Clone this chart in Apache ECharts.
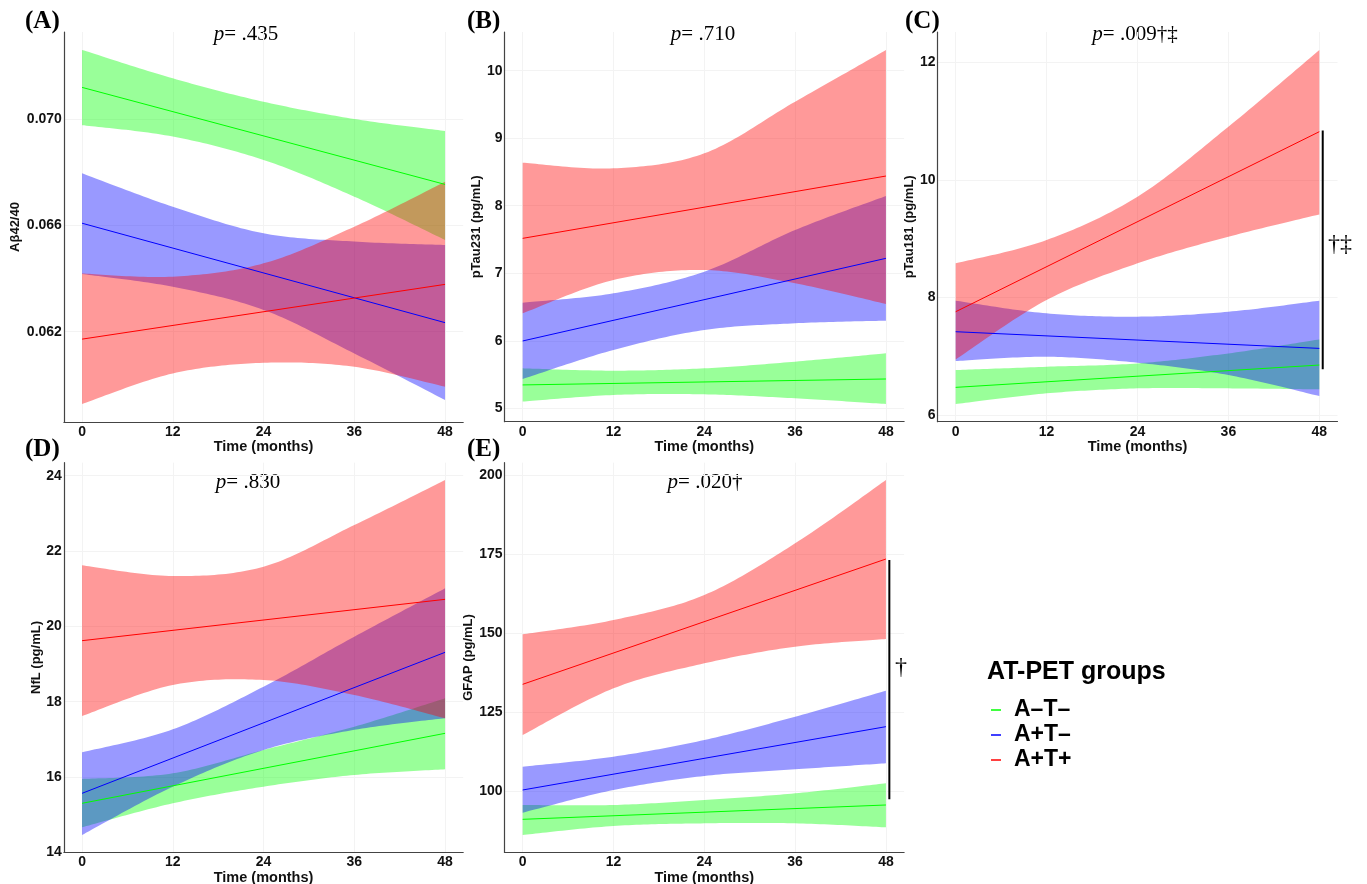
<!DOCTYPE html>
<html><head><meta charset="utf-8">
<script src="https://cdn.jsdelivr.net/npm/echarts@6/dist/echarts.min.js"></script>
<style>html,body{margin:0;padding:0;background:#fff}#c{width:1367px;height:884px}</style>
</head><body><div id="c"></div>
<script>
// ---------- data ----------
const months = [0, 12, 24, 36, 48];
const fitMonths = [0, 48];
const groups = ['A–T–', 'A+T–', 'A+T+'];
const xTicks = [0, 12, 24, 36, 48];

// (A) Aβ42/40
const aLowerG = [0.06977, 0.06934, 0.06846, 0.06708, 0.06545];
const aUpperG = [0.07260, 0.07153, 0.07065, 0.07000, 0.06955];
const aFitG = [0.07119, 0.06754];
const aLowerB = [0.06417, 0.06369, 0.06282, 0.06118, 0.05943];
const aUpperB = [0.06796, 0.06670, 0.06570, 0.06539, 0.06526];
const aFitB = [0.06608, 0.06234];
const aLowerR = [0.05928, 0.06043, 0.06083, 0.06068, 0.05993];
const aUpperR = [0.06419, 0.06407, 0.06457, 0.06595, 0.06764];
const aFitR = [0.06172, 0.06378];
const aTicks = [0.062, 0.066, 0.070];

// (B) pTau231
const bLowerG = [5.099, 5.197, 5.207, 5.148, 5.064];
const bUpperG = [5.592, 5.557, 5.592, 5.691, 5.814];
const bFitG = [5.346, 5.434];
const bLowerB = [5.434, 5.864, 6.160, 6.259, 6.298];
const bUpperB = [6.565, 6.703, 7.024, 7.641, 8.144];
const bFitB = [5.997, 7.221];
const bLowerR = [6.407, 6.900, 7.048, 6.851, 6.545];
const bUpperR = [8.638, 8.554, 8.776, 9.541, 10.306];
const bFitR = [7.517, 8.440];
const bTicks = [5, 6, 7, 8, 9, 10];

// (C) pTau181
const cLowerG = [6.186, 6.368, 6.453, 6.453, 6.436];
const cUpperG = [6.765, 6.821, 6.878, 7.048, 7.286];
const cFitG = [6.470, 6.850];
const cLowerB = [6.918, 6.991, 6.889, 6.680, 6.322];
const cUpperB = [7.944, 7.729, 7.673, 7.757, 7.944];
const cFitB = [7.417, 7.133];
const cLowerR = [6.946, 7.956, 8.580, 9.033, 9.413];
const cUpperR = [8.580, 8.977, 9.714, 10.905, 12.210];
const cFitR = [7.757, 10.820];
const cTicks = [6, 8, 10, 12];
const cBracket = [10.84, 6.78];

// (D) NfL
const dLowerG = [14.664, 15.301, 15.743, 16.053, 16.204];
const dUpperG = [15.947, 16.097, 16.717, 17.336, 18.088];
const dFitG = [15.301, 17.159];
const dLowerB = [14.460, 15.743, 16.717, 17.252, 17.562];
const dUpperB = [16.655, 17.265, 18.398, 19.726, 21.009];
const dFitB = [15.566, 19.310];
const dLowerR = [17.619, 18.442, 18.575, 18.177, 17.558];
const dUpperR = [21.619, 21.336, 21.584, 22.690, 23.885];
const dFitR = [19.619, 20.717];
const dTicks = [14, 16, 18, 20, 22, 24];

// (E) GFAP
const eLowerG = [86.08, 88.92, 89.77, 89.77, 88.50];
const eUpperG = [95.57, 95.57, 97.15, 99.26, 102.43];
const eFitG = [91.03, 95.57];
const eLowerB = [93.14, 100.32, 104.75, 106.86, 108.76];
const eUpperB = [107.70, 110.86, 116.14, 123.52, 131.75];
const eFitB = [100.32, 120.36];
const eLowerR = [117.72, 132.49, 140.40, 145.68, 148.10];
const eUpperR = [149.58, 154.11, 162.03, 178.38, 198.42];
const eFitR = [133.76, 173.42];
const eTicks = [100, 125, 150, 175, 200];
const eBracket = [173.1, 97.4];
const bracketX = 48.45;

// ---------- layout / styling ----------
const colors = ['#00FF00', '#0000FF', '#FF0000'];
const bandFills = ['rgba(0,255,0,0.4)', 'rgba(0,0,255,0.4)', 'rgba(255,0,0,0.4)'];
const SANS = 'Liberation Sans, Arial, sans-serif';
const SERIF = 'Liberation Serif, Times New Roman, serif';

const panels = [
  { letter: '(A)', grid: {left: 63.9, top: 32, width: 399.3, height: 390}, ymin: 0.058603, ymax: 0.073273, ticks: aTicks, fmt: v => v.toFixed(3), yname: 'Aβ42/40', gap: 42,
    lower: [aLowerG, aLowerB, aLowerR], upper: [aUpperG, aUpperB, aUpperR], fit: [aFitG, aFitB, aFitR], p: '.435', sym: '', px: 246, py: 34, lx: 25, ly: 22 },
  { letter: '(B)', grid: {left: 504.5, top: 32, width: 399.6, height: 389.7}, ymin: 4.8015, ymax: 10.573, ticks: bTicks, fmt: v => String(v), yname: 'pTau231 (pg/mL)', gap: 19,
    lower: [bLowerG, bLowerB, bLowerR], upper: [bUpperG, bUpperB, bUpperR], fit: [bFitG, bFitB, bFitR], p: '.710', sym: '', px: 703, py: 34, lx: 467, ly: 22 },
  { letter: '(C)', grid: {left: 937.5, top: 32, width: 400, height: 389.7}, ymin: 5.886, ymax: 12.516, ticks: cTicks, fmt: v => String(v), yname: 'pTau181 (pg/mL)', gap: 19,
    lower: [cLowerG, cLowerB, cLowerR], upper: [cUpperG, cUpperB, cUpperR], fit: [cFitG, cFitB, cFitR], p: '.009', sym: '†‡', px: 1135, py: 34, lx: 905, ly: 22, bracket: cBracket, bsym: '†‡', bsx: 1340, bsy: 245 },
  { letter: '(D)', grid: {left: 63.9, top: 462.7, width: 399.3, height: 389.6}, ymin: 14.0, ymax: 24.345, ticks: dTicks, fmt: v => String(v), yname: 'NfL (pg/mL)', gap: 20,
    lower: [dLowerG, dLowerB, dLowerR], upper: [dUpperG, dUpperB, dUpperR], fit: [dFitG, dFitB, dFitR], p: '.830', sym: '', px: 248, py: 482, lx: 25, ly: 450 },
  { letter: '(E)', grid: {left: 504.5, top: 462.7, width: 399.6, height: 389.6}, ymin: 80.6, ymax: 203.9, ticks: eTicks, fmt: v => String(v), yname: 'GFAP (pg/mL)', gap: 27,
    lower: [eLowerG, eLowerB, eLowerR], upper: [eUpperG, eUpperB, eUpperR], fit: [eFitG, eFitB, eFitR], p: '.020', sym: '†', px: 705, py: 482, lx: 467, ly: 450, bracket: eBracket, bsym: '†', bsx: 901, bsy: 668 }
];

// Catmull-Rom sampling of projected (pixel) points, for a smooth band outline
function crSample(pts, n) {
  const out = [];
  for (let i = 0; i < pts.length - 1; i++) {
    const p0 = pts[Math.max(i - 1, 0)], p1 = pts[i], p2 = pts[i + 1], p3 = pts[Math.min(i + 2, pts.length - 1)];
    for (let s = 0; s < n; s++) {
      const t = s / n, t2 = t * t, t3 = t2 * t;
      const f = (a, b, c, d) => 0.5 * (2 * b + (-a + c) * t + (2 * a - 5 * b + 4 * c - d) * t2 + (-a + 3 * b - 3 * c + d) * t3);
      out.push([f(p0[0], p1[0], p2[0], p3[0]), f(p0[1], p1[1], p2[1], p3[1])]);
    }
  }
  out.push(pts[pts.length - 1]);
  return out;
}

const grids = [], xAxes = [], yAxes = [], series = [], graphics = [];

panels.forEach((P, k) => {
  grids.push(Object.assign({ outerBoundsMode: 'none', containLabel: false }, P.grid));
  xAxes.push({
    type: 'value', gridIndex: k, min: -2.4, max: 50.4,
    name: 'Time (months)', nameLocation: 'middle', nameGap: 15,
    nameTextStyle: { fontFamily: SANS, fontWeight: 'bold', fontSize: 14.5, color: '#111' },
    axisLine: { show: true, onZero: false, lineStyle: { color: '#444', width: 1.2 } },
    axisTick: { show: false, customValues: xTicks },
    axisLabel: { customValues: xTicks, margin: 3, fontFamily: SANS, fontWeight: 'bold', fontSize: 14, color: '#111' },
    splitLine: { show: true, lineStyle: { color: '#f3f3f3', width: 1 } }
  });
  yAxes.push({
    type: 'value', gridIndex: k, min: P.ymin, max: P.ymax,
    name: P.yname, nameLocation: 'middle', nameGap: P.gap, nameRotate: 90,
    nameTextStyle: { fontFamily: SANS, fontWeight: 'bold', fontSize: 13, color: '#111' },
    axisLine: { show: true, onZero: false, lineStyle: { color: '#444', width: 1.2 } },
    axisTick: { show: false, customValues: P.ticks },
    axisLabel: { customValues: P.ticks, formatter: P.fmt, margin: 2, fontFamily: SANS, fontWeight: 'bold', fontSize: 14, color: '#111' },
    splitLine: { show: true, lineStyle: { color: '#f3f3f3', width: 1 } }
  });
  // confidence bands (custom polygons projected through the axes)
  for (let g = 0; g < 3; g++) {
    const lo = P.lower[g], up = P.upper[g], fill = bandFills[g];
    series.push({
      type: 'custom', xAxisIndex: k, yAxisIndex: k, silent: true, z: 2,
      data: months.map((m, i) => [m, lo[i], up[i]]),
      encode: { x: 0, y: [1, 2] },
      renderItem: function (params, api) {
        if (params.dataIndex !== 0) return null;
        const upPts = months.map((m, i) => api.coord([m, up[i]]));
        const loPts = months.map((m, i) => api.coord([m, lo[i]]));
        const poly = crSample(upPts, 24).concat(crSample(loPts, 24).reverse());
        return { type: 'polygon', shape: { points: poly }, style: { fill: fill, stroke: null } };
      }
    });
  }
  // fitted lines
  for (let g = 0; g < 3; g++) {
    series.push({
      name: groups[g], type: 'line', xAxisIndex: k, yAxisIndex: k, silent: true,
      data: fitMonths.map((m, i) => [m, P.fit[g][i]]), symbol: 'none',
      color: colors[g], itemStyle: { color: colors[g] },
      lineStyle: { color: colors[g], width: 1 }, z: 3
    });
  }
  if (P.bracket) {
    series.push({
      type: 'line', xAxisIndex: k, yAxisIndex: k, silent: true,
      data: P.bracket.map(v => [bracketX, v]), symbol: 'none',
      lineStyle: { color: '#000', width: 2 }, z: 4
    });
    graphics.push({ type: 'text', x: P.bsx, y: P.bsy, style: { text: P.bsym, font: '24px ' + SERIF, fill: '#000', textAlign: 'center', textVerticalAlign: 'middle' } });
  }
  graphics.push({ type: 'text', x: P.lx, y: P.ly, style: { text: P.letter, font: 'bold 25px ' + SERIF, fill: '#000', textAlign: 'left', textVerticalAlign: 'middle' } });
  graphics.push({ type: 'text', x: P.px, y: P.py, style: {
    text: '{i|p}= ' + P.p + P.sym, font: '21px ' + SERIF, fill: '#000', textAlign: 'center', textVerticalAlign: 'middle',
    rich: { i: { fontStyle: 'italic', font: 'italic 21px ' + SERIF } }
  } });
});

graphics.push({ type: 'text', x: 987, y: 672, style: { text: 'AT-PET groups', font: 'bold 25px ' + SANS, fill: '#000', textAlign: 'left', textVerticalAlign: 'middle' } });

const chart = echarts.init(document.getElementById('c'), null, { renderer: 'canvas' });
chart.setOption({
  backgroundColor: '#fff',
  animation: false,
  grid: grids, xAxis: xAxes, yAxis: yAxes, series: series,
  legend: {
    data: groups, orient: 'vertical', left: 986, top: 693, icon: 'rect', itemWidth: 10, itemHeight: 1.5, itemGap: 1,
    selectedMode: false,
    textStyle: { fontFamily: SANS, fontWeight: 'bold', fontSize: 23, color: '#000', padding: [0, 0, 0, 8], lineHeight: 24 }
  },
  graphic: graphics
});
</script>
</body></html>
